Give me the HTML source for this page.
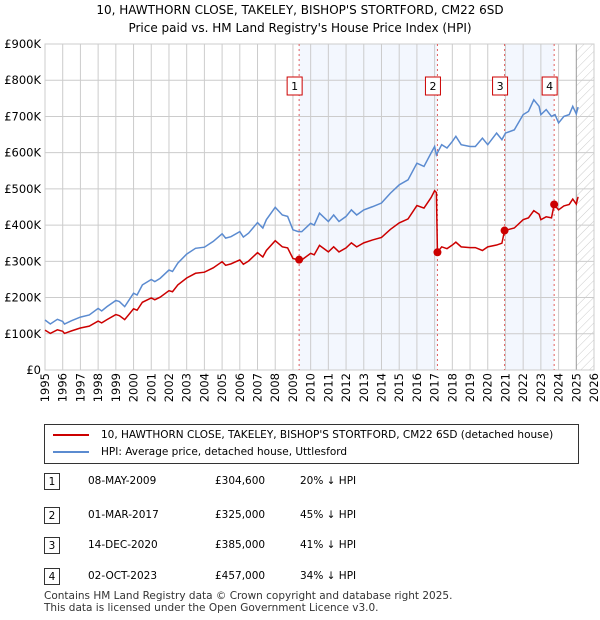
<!DOCTYPE html>
<html><head><meta charset="utf-8"><style>
body{margin:0;background:#fff;font-family:"DejaVu Sans","Liberation Sans",sans-serif;}
#wrap{position:relative;width:600px;height:620px;}
.t{position:absolute;font-size:12px;color:#000;}
</style></head><body>
<div id="wrap">
<div class="t" style="left:0;width:600px;top:1px;text-align:center;font-size:12px;line-height:18px">10, HAWTHORN CLOSE, TAKELEY, BISHOP'S STORTFORD, CM22 6SD<br>Price paid vs. HM Land Registry's House Price Index (HPI)</div>
<svg id="chart" width="600" height="420" style="position:absolute;left:0;top:0;font-family:'DejaVu Sans',sans-serif"></svg>
<div style="position:absolute;left:44px;top:424px;width:535px;height:40px;border:1px solid #333;box-sizing:border-box">
 <div style="position:absolute;left:8px;top:4px;font-size:10.5px"><span style="display:inline-block;width:36px;height:2px;background:#cc0000;vertical-align:middle;margin-right:12px"></span>10, HAWTHORN CLOSE, TAKELEY, BISHOP'S STORTFORD, CM22 6SD (detached house)</div>
 <div style="position:absolute;left:8px;top:21px;font-size:10.5px"><span style="display:inline-block;width:36px;height:2px;background:#5b8bd0;vertical-align:middle;margin-right:12px"></span>HPI: Average price, detached house, Uttlesford</div>
</div>
<div id="tbl"></div>
<div class="t" style="left:44px;top:590px;font-size:10.5px;line-height:12px;color:#333">Contains HM Land Registry data © Crown copyright and database right 2025.<br>This data is licensed under the Open Government Licence v3.0.</div>
</div>
<script>
const hpiDates=[1995.0,1995.3,1995.7,1996.0,1996.1,1996.5,1997.0,1997.5,1998.0,1998.2,1998.5,1999.0,1999.2,1999.5,2000.0,2000.2,2000.5,2001.0,2001.2,2001.5,2002.0,2002.2,2002.5,2003.0,2003.5,2004.0,2004.5,2005.0,2005.2,2005.5,2006.0,2006.2,2006.5,2007.0,2007.3,2007.5,2008.0,2008.4,2008.7,2009.0,2009.3,2009.5,2010.0,2010.2,2010.5,2011.0,2011.3,2011.6,2012.0,2012.3,2012.6,2013.0,2013.5,2014.0,2014.5,2015.0,2015.5,2016.0,2016.4,2016.8,2017.0,2017.1,2017.4,2017.7,2018.0,2018.2,2018.5,2019.0,2019.3,2019.7,2020.0,2020.5,2020.8,2021.0,2021.5,2022.0,2022.3,2022.6,2022.9,2023.0,2023.3,2023.6,2023.8,2024.0,2024.3,2024.6,2024.8,2025.0,2025.1];
const hpiValues=[138,127,140,134,127,136,146,152,170,163,175,192,189,175,212,207,235,250,244,253,276,272,295,320,336,339,355,376,364,368,382,367,378,407,392,415,449,428,424,387,382,382,405,400,433,410,428,410,424,442,428,442,451,461,488,511,525,571,562,599,617,594,622,613,631,645,622,617,617,640,622,654,636,654,663,705,714,746,728,705,719,700,705,682,700,705,728,707,726];
const redDates=[1995.0,1995.3,1995.7,1996.0,1996.1,1996.5,1997.0,1997.5,1998.0,1998.2,1998.5,1999.0,1999.2,1999.5,2000.0,2000.2,2000.5,2001.0,2001.2,2001.5,2002.0,2002.2,2002.5,2003.0,2003.5,2004.0,2004.5,2005.0,2005.2,2005.5,2006.0,2006.2,2006.5,2007.0,2007.3,2007.5,2008.0,2008.4,2008.7,2009.0,2009.3,2009.35,2009.5,2010.0,2010.2,2010.5,2011.0,2011.3,2011.6,2012.0,2012.3,2012.6,2013.0,2013.5,2014.0,2014.5,2015.0,2015.5,2016.0,2016.4,2016.8,2017.0,2017.1,2017.16,2017.4,2017.7,2018.0,2018.2,2018.5,2019.0,2019.3,2019.7,2020.0,2020.5,2020.8,2020.95,2021.5,2022.0,2022.3,2022.6,2022.9,2023.0,2023.3,2023.6,2023.75,2024.0,2024.3,2024.6,2024.8,2025.0,2025.1];
const redValues=[110,101,111,107,101,108,116,121,135,130,139,153,150,139,169,165,187,199,194,201,219,216,235,254,267,270,282,299,289,293,304,292,301,324,312,330,357,340,337,308,304,304.6,304,322,318,344,326,340,326,337,351,340,351,359,366,388,406,417,454,447,476,495,490,325,340,335,345,353,340,338,338,330,340,345,350,385,392,415,420,440,430,415,423,420,457,442,453,457,472,458,478];
const saleDates=[2009.35,2017.16,2020.95,2023.75];
const salePrices=[304.6,325,385,457];
const saleLabels=["08-MAY-2009","01-MAR-2017","14-DEC-2020","02-OCT-2023"];
const salePriceText=["£304,600","£325,000","£385,000","£457,000"];
const salePct=["20% ↓ HPI","45% ↓ HPI","41% ↓ HPI","34% ↓ HPI"];
const yTicks=[0,100,200,300,400,500,600,700,800,900];
const yTickLabels=["£0","£100K","£200K","£300K","£400K","£500K","£600K","£700K","£800K","£900K"];
const xYears=[1995,1996,1997,1998,1999,2000,2001,2002,2003,2004,2005,2006,2007,2008,2009,2010,2011,2012,2013,2014,2015,2016,2017,2018,2019,2020,2021,2022,2023,2024,2025,2026];

const L=45,R=594,T=44,B=370,x0=1995,x1=2026,ymax=900;
const X=v=>L+(v-x0)/(x1-x0)*(R-L);
const Y=v=>B-v/ymax*(B-T);
const svg=document.getElementById('chart');const NS='http://www.w3.org/2000/svg';
function mk(t,a,p){const e=document.createElementNS(NS,t);for(const k in a)e.setAttribute(k,a[k]);(p||svg).appendChild(e);return e;}
let defs=mk('defs',{});
let pat=mk('pattern',{id:'hatch',width:6,height:6,patternUnits:'userSpaceOnUse',patternTransform:'rotate(45)'},defs);
mk('line',{x1:0,y1:0,x2:0,y2:6,stroke:'#ccc','stroke-width':1},pat);
[[0,1],[2,3]].forEach((p,i)=>{const r=mk('rect',{x:X(saleDates[p[0]]),y:T,width:X(saleDates[p[1]])-X(saleDates[p[0]]),height:B-T,fill:'#eef3fd',opacity:0.7});

});
const h=mk('rect',{x:X(2025),y:T,width:R-X(2025),height:B-T,fill:'url(#hatch)'});


yTicks.forEach((v,i)=>{mk('line',{x1:L,x2:R,y1:Y(v),y2:Y(v),stroke:'#ccc','stroke-width':1});
const t=mk('text',{x:L-4,y:Y(v)+4,'text-anchor':'end','font-size':11.5,fill:'#000'});t.textContent=yTickLabels[i];

});
xYears.forEach(v=>{mk('line',{x1:X(v),x2:X(v),y1:T,y2:B,stroke:v===2025?'#999':'#ccc','stroke-width':1});
const t=mk('text',{x:0,y:0,'text-anchor':'end','font-size':11.5,fill:'#000',transform:`translate(${X(v)+4},${B+3}) rotate(-90)`});t.textContent=v;

});
mk('rect',{x:L,y:T,width:R-L,height:B-T,fill:'none',stroke:'#ccc'});
saleDates.forEach((d,i)=>{const l=mk('line',{x1:X(d),x2:X(d),y1:T,y2:B,stroke:'#e06060','stroke-dasharray':'2,3','stroke-width':1});

});
const hp=mk('polyline',{points:hpiDates.map((d,i)=>X(d)+','+Y(hpiValues[i])).join(' '),fill:'none',stroke:'#5b8bd0','stroke-width':1.5});


const rp=mk('polyline',{points:redDates.map((d,i)=>X(d)+','+Y(redValues[i])).join(' '),fill:'none',stroke:'#cc0000','stroke-width':1.5});


saleDates.forEach((d,i)=>{const c=mk('circle',{cx:X(d),cy:Y(salePrices[i]),r:4,fill:'#cc0000'});


const bx=X(d)-12;const r=mk('rect',{x:bx,y:77,width:15,height:18,fill:'#fff',stroke:'#cc0000'});


const t=mk('text',{x:bx+7.5,y:90,'text-anchor':'middle','font-size':11});t.textContent=i+1;

});
const tbl=document.getElementById('tbl');const rowsY=[482,516,546,577];
saleLabels.forEach((s,i)=>{const row=document.createElement('div');


row.style.cssText=`position:absolute;left:0;top:${rowsY[i]-9}px;width:600px;height:18px;font-size:10.5px;`;
row.innerHTML=`<span style="position:absolute;left:44px;top:0;width:16px;height:17px;border:1px solid #333;box-sizing:border-box;text-align:center;line-height:16px">${i+1}</span><span style="position:absolute;left:88px;top:2px">${s}</span><span style="position:absolute;left:215px;top:2px">${salePriceText[i]}</span><span style="position:absolute;left:300px;top:2px">${salePct[i]}</span>`;
tbl.appendChild(row);});
</script>
</body></html>
